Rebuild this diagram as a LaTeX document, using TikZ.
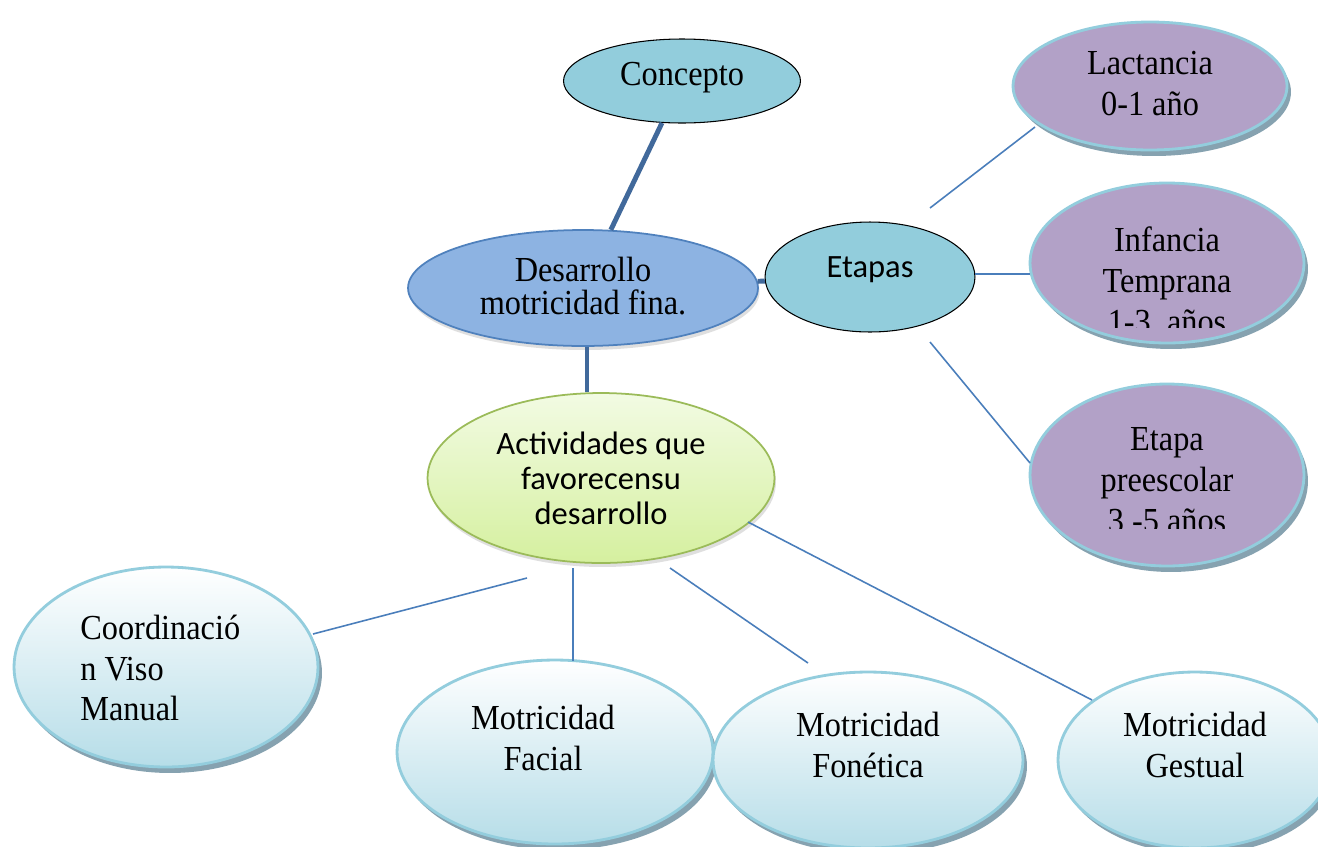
\documentclass[tikz,border=0pt]{standalone}
\usepackage{fontspec}
\setmainfont[FakeStretch=0.92]{Liberation Serif}
\newfontfamily\calib{Carlito}
\usetikzlibrary{shapes.geometric,shadows}
\definecolor{cyanfill}{HTML}{92CDDC}
\definecolor{desfill}{HTML}{8DB3E2}
\definecolor{desline}{HTML}{4F81BD}
\definecolor{actline}{HTML}{9BBB59}
\definecolor{acttop}{HTML}{F2FBE3}
\definecolor{actbot}{HTML}{D5F09F}
\definecolor{purp}{HTML}{B2A1C7}
\definecolor{rim}{HTML}{93CDDD}
\definecolor{shcol}{HTML}{86A2B0}
\definecolor{lbbot}{HTML}{B6DDE8}
\definecolor{thick}{HTML}{41699B}
\definecolor{thin}{HTML}{4A7EBB}
\begin{document}
\begin{tikzpicture}[x=0.02cm,y=-0.02cm,
  base/.style={ellipse,inner sep=0pt},
  txt/.style={align=center,inner sep=0pt,font=\fontsize{20}{23.3}\selectfont},
  ctxt/.style={align=center,inner sep=0pt,font=\calib\fontsize{18.5}{20}\selectfont},
  plain/.style={base,fill=cyanfill,draw=black,line width=0.6pt},
  desbox/.style={base,fill=desfill,draw=desline,line width=1pt,
    drop shadow={shadow xshift=0.03cm,shadow yshift=-0.08cm,fill=gray,opacity=0.25}},
  actbox/.style={base,top color=acttop,bottom color=actbot,draw=actline,line width=1pt,
    drop shadow={shadow xshift=0.03cm,shadow yshift=-0.08cm,fill=gray,opacity=0.25}},
  purpbox/.style={base,fill=purp,draw=rim,line width=1.6pt,
    drop shadow={shadow xshift=0.08cm,shadow yshift=-0.12cm,fill=shcol,opacity=1}},
  bluebox/.style={base,top color=white,bottom color=lbbot,draw=rim,line width=1.6pt,
    drop shadow={shadow xshift=0.08cm,shadow yshift=-0.12cm,fill=shcol,opacity=1}},
  thickline/.style={draw=thick,line width=2.8pt},
  thinline/.style={draw=thin,line width=0.9pt}]
\clip (0,0) rectangle (1318,846);
\fill[white] (0,0) rectangle (1318,846);

% free ends of the thin connectors
\coordinate (e1) at (930,208);
\coordinate (e2) at (975,274);
\coordinate (e3) at (930,342);
\coordinate (l1) at (1035,127);
\coordinate (l2) at (1030,274);
\coordinate (l3) at (1030,463);
\coordinate (a1) at (527,578);
\coordinate (a2) at (573,568);
\coordinate (a3) at (670,568);
\coordinate (a4) at (748,522);
\coordinate (b1) at (313,634);
\coordinate (b2) at (573,661);
\coordinate (b3) at (808,663);
\coordinate (b4) at (1092,700);

% central nodes
\node[plain,minimum width=4.74cm,minimum height=1.68cm] (concepto) at (682,81) {};
\node[desbox,minimum width=7.0cm,minimum height=2.32cm] (des) at (583,288) {};
\node[plain,minimum width=4.2cm,minimum height=2.2cm] (etapas) at (870,277) {};
\node[actbox,minimum width=6.94cm,minimum height=3.4cm] (act) at (601,478) {};

\draw[thickline] (concepto) -- (des);
\draw[thickline] (des) -- (etapas);
\draw[thickline] (des.south) ++(4,0) coordinate (ds) (ds) -- (act.north -| ds);

\node[txt] (conceptot) at (682,78) {Concepto};
\node[txt,font=\fontsize{20}{18.5}\selectfont] (dest) at (583,286) {Desarrollo\\motricidad fina.};
\node[ctxt] (etapast) at (870,270) {Etapas};
\node[ctxt] (actt) at (601,478) {Actividades que\\favorecensu\\desarrollo};

% stages
\node[purpbox,minimum width=5.48cm,minimum height=2.56cm] (lac) at (1150,86) {};
\node[purpbox,minimum width=5.48cm,minimum height=3.2cm] (inf) at (1167,263) {};
\node[purpbox,minimum width=5.48cm,minimum height=3.64cm] (pre) at (1167,475) {};

\node[txt] (lact) at (1150,84) {Lactancia\\0-1 año};
\begin{scope}
  \clip (1030,150) rectangle (1305,327);
  \node[txt] (inft) at (1167,280) {Infancia\\Temprana\\1-3\ \ años};
\end{scope}
\begin{scope}
  \clip (1030,380) rectangle (1305,528);
  \node[txt] (pret) at (1167,480) {Etapa\\preescolar\\3 -5 años};
\end{scope}

\draw[thinline] (e1) -- (l1);
\draw[thinline] (e2) -- (l2);
\draw[thinline] (e3) -- (l3);

% activities
\node[bluebox,minimum width=6.08cm,minimum height=4.0cm] (coord) at (166,667) {};
\node[bluebox,minimum width=6.32cm,minimum height=3.68cm] (fac) at (555,752) {};
\node[bluebox,minimum width=6.2cm,minimum height=3.52cm] (fon) at (868,760) {};
\node[bluebox,minimum width=5.48cm,minimum height=3.52cm] (ges) at (1195,760) {};

\node[txt,align=left,anchor=west] (coordt) at (80,668) {Coordinació\\n Viso\\Manual};
\node[txt] (fact) at (543,738) {Motricidad\\Facial};
\node[txt] (font) at (868,745) {Motricidad\\Fonética};
\node[txt] (gest) at (1195,745) {Motricidad\\Gestual};

\draw[thinline] (a1) -- (b1);
\draw[thinline] (a2) -- (b2);
\draw[thinline] (a3) -- (b3);
\draw[thinline] (a4) -- (b4);
\end{tikzpicture}
\end{document}
